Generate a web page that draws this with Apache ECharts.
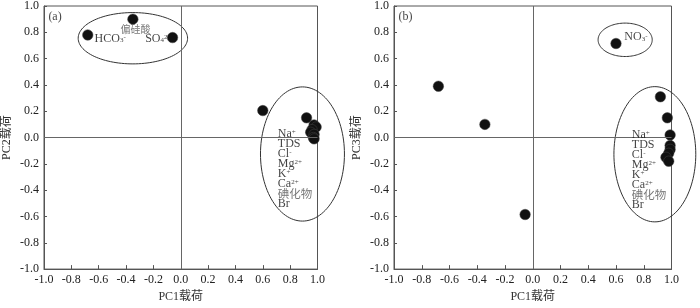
<!DOCTYPE html>
<html>
<head>
<meta charset="utf-8">
<script src="https://cdn.jsdelivr.net/npm/echarts@6/dist/echarts.min.js"></script>
<style>
html,body{margin:0;padding:0;background:#fff;}
#c{width:700px;height:308px;}
</style>
</head>
<body>
<div id="c"></div>
<script>
// ---- data ----
// order: HCO3-, 偏硅酸, SO4 2-, NO3-, then the 8 clustered variables
const pc1PanelA = [-0.68, -0.35, -0.06, 0.60, 0.92, 0.975, 0.99, 0.96, 0.95, 0.975, 0.97, 0.975];
const pc2Values = [0.78, 0.90, 0.76, 0.205, 0.15, 0.096, 0.08, 0.06, 0.04, 0.024, 0.00, -0.01];
const pc1PanelB = [-0.68, -0.345, -0.055, 0.60, 0.92, 0.97, 0.99, 0.99, 0.99, 0.98, 0.96, 0.98];
const pc3Values = [0.39, 0.10, -0.585, 0.715, 0.31, 0.15, 0.02, -0.06, -0.09, -0.12, -0.15, -0.18];
const axisTicks = [-1.0, -0.8, -0.6, -0.4, -0.2, 0.0, 0.2, 0.4, 0.6, 0.8, 1.0];
const panelLetters = ['(a)', '(b)'];
const axisNames = ['PC1载荷', 'PC2载荷', 'PC3载荷'];
const clusterLabel = '{n|Na}{sup|+}\n{n|TDS}\n{n|Cl}{sup|-}\n{n|Mg}{sup|2+}\n{n|K}{sup|+}\n{n|Ca}{sup|2+}\n{cn2|碘化物}\n{n|Br}';
const labelsA = ['{n|HCO}{sub|3}{sup|-}', '{cn|偏硅酸}', '{n|SO}{sub|4}{sup|2-}', clusterLabel];
const labelsB = ['{n|NO}{sub|3}{sup|-}', clusterLabel];
// ---- annotation geometry (data coordinates) ----
const labelAnchorsA = [[-0.63, 0.75, 'middle'], [-0.44, 0.82, 'middle'], [-0.26, 0.75, 'middle'], [0.71, 0.068, 'top']];
const labelAnchorsB = [[0.66, 0.763, 'middle'], [0.714, 0.06, 'top']];
const ellipsesA = [[-0.35, 0.755, 0.40, 0.195], [0.89, -0.125, 0.307, 0.51]];
const ellipsesB = [[0.666, 0.743, 0.195, 0.127], [0.88, -0.127, 0.295, 0.514]];
const letterAnchor = [-0.968, 0.917];

const SERIF = '"Liberation Serif","DejaVu Serif","Noto Sans CJK SC",serif';
const CJK = '"Noto Sans CJK SC",sans-serif';
const rich = {
  n: {fontFamily: SERIF, fontSize: 12, lineHeight: 10, color: '#111'},
  sup: {fontFamily: SERIF, fontSize: 7, lineHeight: 2, verticalAlign: 'top', color: '#111'},
  sub: {fontFamily: SERIF, fontSize: 7, lineHeight: 1, verticalAlign: 'bottom', color: '#111'},
  cn: {fontFamily: CJK, fontSize: 10, lineHeight: 10, color: '#555'},
  cn2: {fontFamily: CJK, fontSize: 11.5, lineHeight: 10, color: '#555'}
};

const chart = echarts.init(document.getElementById('c'), null, {renderer: 'canvas'});

function mkX(gi) {
  return {
    type: 'value', gridIndex: gi, min: axisTicks[0], max: axisTicks[axisTicks.length - 1], interval: 0.2,
    name: axisNames[0], nameLocation: 'middle', nameGap: 19,
    nameTextStyle: {fontFamily: SERIF, fontSize: 12, color: '#333'},
    axisLine: {onZero: false, lineStyle: {color: '#555', width: 1}},
    axisTick: {inside: true, length: 4, lineStyle: {color: '#555'}},
    axisLabel: {fontFamily: SERIF, fontSize: 12, color: '#222', margin: 5, formatter: v => v.toFixed(1)},
    splitLine: {show: false}
  };
}
function mkY(gi, name, gap) {
  return {
    type: 'value', gridIndex: gi, min: axisTicks[0], max: axisTicks[axisTicks.length - 1], interval: 0.2,
    name: name, nameLocation: 'middle', nameGap: gap, nameRotate: 90,
    nameTextStyle: {fontFamily: SERIF, fontSize: 12, color: '#333'},
    axisLine: {onZero: false, lineStyle: {color: '#555', width: 1}},
    axisTick: {inside: true, length: 3, lineStyle: {color: '#555'}},
    axisLabel: {fontFamily: SERIF, fontSize: 12, color: '#222', margin: 5, formatter: v => v.toFixed(1)},
    splitLine: {show: false}
  };
}

function ellipseSeries(gi, list) {
  return {
    type: 'custom', xAxisIndex: gi, yAxisIndex: gi, silent: true, clip: false, z: 1,
    data: list,
    renderItem: function (params, api) {
      const cx = api.value(0), cy = api.value(1), rx = api.value(2), ry = api.value(3);
      const pts = [];
      for (let i = 0; i < 120; i++) {
        const t = i / 120 * Math.PI * 2;
        pts.push(api.coord([cx + rx * Math.cos(t), cy + ry * Math.sin(t)]));
      }
      return {type: 'polygon', shape: {points: pts}, style: {fill: 'none', stroke: '#333', lineWidth: 1}};
    }
  };
}

function labelSeries(gi, anchors, texts, letter) {
  const data = anchors.map((a, i) => ({
    value: [a[0], a[1]],
    label: {formatter: texts[i], verticalAlign: a[2]}
  }));
  data.push({value: letterAnchor, label: {formatter: '{n|' + letter + '}', verticalAlign: 'middle'}});
  return {
    type: 'scatter', xAxisIndex: gi, yAxisIndex: gi, symbolSize: 0, silent: true, z: 5,
    label: {show: true, position: [0, 0], align: 'left', rich: rich},
    data: data
  };
}

function pointSeries(gi, xs, ys) {
  return {
    type: 'scatter', xAxisIndex: gi, yAxisIndex: gi, symbol: 'circle', symbolSize: 10.5, z: 3,
    itemStyle: {color: '#111', borderColor: '#444', borderWidth: 0.5, opacity: 1},
    data: xs.map((x, i) => [x, ys[i]]),
    markLine: {
      silent: true, symbol: 'none', animation: false, label: {show: false},
      lineStyle: {color: '#666', width: 1, type: 'solid'},
      data: [{xAxis: 0}, {yAxis: 0}]
    }
  };
}

chart.setOption({
  animation: false,
  backgroundColor: '#fff',
  grid: [
    {left: 40.5, right: 382.5, top: 1, bottom: 31, show: true, borderColor: '#555', borderWidth: 1},
    {left: 394, right: 28.5, top: 1, bottom: 31, show: true, borderColor: '#555', borderWidth: 1}
  ],
  xAxis: [mkX(0), mkX(1)],
  yAxis: [mkY(0, axisNames[1], 31), mkY(1, axisNames[2], 31)],
  series: [
    ellipseSeries(0, ellipsesA),
    ellipseSeries(1, ellipsesB),
    pointSeries(0, pc1PanelA, pc2Values),
    pointSeries(1, pc1PanelB, pc3Values),
    labelSeries(0, labelAnchorsA, labelsA, panelLetters[0]),
    labelSeries(1, labelAnchorsB, labelsB, panelLetters[1])
  ]
});
</script>
</body>
</html>
